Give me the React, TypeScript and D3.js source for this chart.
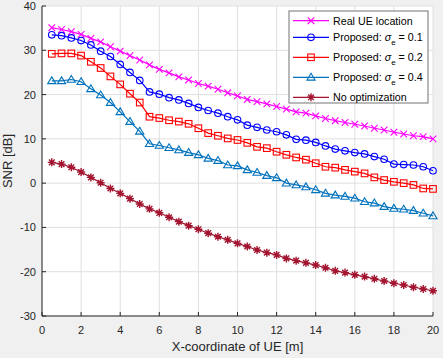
import * as d3 from 'd3';

const xValues = [
  0.5, 1, 1.5, 2, 2.5, 3, 3.5, 4, 4.5, 5, 5.5, 6, 6.5, 7, 7.5, 8, 8.5, 9, 9.5, 10,
  10.5, 11, 11.5, 12, 12.5, 13, 13.5, 14, 14.5, 15, 15.5, 16, 16.5, 17, 17.5, 18, 18.5, 19, 19.5, 20,
];

const realUE = [
  35.1, 34.7, 34.2, 33.6, 32.7, 31.9, 30.8, 29.8, 28.8, 27.8, 26.7, 25.7, 24.9,
  24.0, 23.3, 22.5, 21.9, 21.2, 20.4, 19.7, 18.9, 18.4, 17.9, 17.3, 16.7, 16.1, 15.8,
  15.2, 14.6, 14.1, 13.7, 13.3, 12.9, 12.4, 12.0, 11.5, 11.1, 10.7, 10.5, 10.0,
];
const sigma01 = [
  33.5, 33.3, 32.8, 32.2, 31.2, 29.8, 28.6, 26.8, 25.0, 23.2, 20.6, 20.1, 19.3,
  18.8, 18.0, 17.1, 16.4, 15.8, 15.0, 14.3, 13.1, 12.6, 12.0, 11.6, 10.9, 9.9, 9.7,
  9.2, 8.4, 7.7, 7.3, 6.9, 6.6, 6.0, 5.4, 4.3, 4.2, 4.1, 3.7, 2.8,
];
const sigma02 = [
  29.2, 29.3, 29.3, 28.8, 27.4, 26.0, 24.1, 22.3, 20.2, 18.2, 15.0, 14.7, 14.2,
  13.9, 13.4, 12.4, 11.3, 10.7, 10.1, 9.75, 9.1, 8.2, 7.9, 7.1, 6.4, 5.8, 5.3,
  4.5, 3.7, 3.5, 3.0, 2.6, 2.2, 1.3, 0.7, 0.3, 0.0, -0.4, -1.2, -1.3,
];
const sigma04 = [
  23.1, 23.1, 23.4, 22.9, 21.3, 19.9, 18.2, 16.1, 13.9, 11.7, 8.9, 8.5, 8.0,
  7.5, 6.9, 6.4, 5.6, 5.1, 4.1, 3.9, 3.0, 2.4, 1.7, 1.2, 0.0, -0.4, -0.85,
  -1.5, -2.3, -2.7, -3.0, -3.4, -4.2, -4.5, -5.3, -5.7, -5.9, -6.2, -6.8, -7.4,
];
const noOpt = [
  4.7, 4.3, 3.6, 2.5, 1.3, 0.1, -1.2, -2.3, -3.5, -4.7, -5.8, -6.7, -7.7,
  -8.7, -9.6, -10.4, -11.3, -12.1, -12.8, -13.6, -14.3, -15.1, -15.7, -16.2, -17.0, -17.5, -18.0,
  -18.5, -19.1, -19.8, -20.2, -20.7, -21.1, -21.6, -22.1, -22.6, -23.0, -23.5, -23.9, -24.3,
];

const xTicks = [0, 2, 4, 6, 8, 10, 12, 14, 16, 18, 20];
const yTicks = [-30, -20, -10, 0, 10, 20, 30, 40];

type Marker = 'x' | 'o' | 's' | '^' | '*';
const series: { name: string; sigma?: string; values: number[]; color: string; marker: Marker }[] = [
  { name: 'Real UE location', values: realUE, color: '#ff00ff', marker: 'x' },
  { name: 'Proposed: ', sigma: '0.1', values: sigma01, color: '#0000ff', marker: 'o' },
  { name: 'Proposed: ', sigma: '0.2', values: sigma02, color: '#ff0000', marker: 's' },
  { name: 'Proposed: ', sigma: '0.4', values: sigma04, color: '#0072bd', marker: '^' },
  { name: 'No optimization', values: noOpt, color: '#a2142f', marker: '*' },
];

const W = 443;
const H = 358;
const margin = { top: 6, right: 10, bottom: 42, left: 42 };
const font = 'Liberation Sans, Arial, Helvetica, sans-serif';

function MarkerShape({ type, x, y, color }: { type: Marker; x: number; y: number; color: string }) {
  const s = 3.3;
  const common = { stroke: color, strokeWidth: 1.1, fill: 'none' };
  if (type === 'o') return <circle cx={x} cy={y} r={3.3} {...common} />;
  if (type === 's') return <rect x={x - s} y={y - s} width={2 * s} height={2 * s} {...common} />;
  if (type === '^')
    return <path d={`M${x},${y - 4}L${x + 4.1},${y + 2.8}L${x - 4.1},${y + 2.8}Z`} {...common} />;
  if (type === 'x')
    return <path d={`M${x - s},${y - s}L${x + s},${y + s}M${x - s},${y + s}L${x + s},${y - s}`} {...common} />;
  const a = 4;
  const b = a * 0.707;
  return (
    <path
      d={`M${x - a},${y}L${x + a},${y}M${x},${y - a}L${x},${y + a}M${x - b},${y - b}L${x + b},${y + b}M${x - b},${y + b}L${x + b},${y - b}`}
      stroke={color}
      strokeWidth={1.4}
      fill="none"
    />
  );
}

export default function App() {
  const x = d3.scaleLinear().domain([0, 20]).range([margin.left, W - margin.right]);
  const y = d3.scaleLinear().domain([-30, 40]).range([H - margin.bottom, margin.top]);
  const line = d3
    .line<number>()
    .x((_, i) => x(xValues[i]))
    .y((d) => y(d));

  const [x0, x1] = x.range();
  const [y0, y1] = y.range();

  const legend = { x: 289, y: 11, w: 139, h: 92 };
  const rowY = [20.7, 37.3, 57.3, 77.3, 97.3];

  return (
    <svg
      width={W}
      height={H}
      style={{ position: 'absolute', left: 0, top: 0, background: '#f0f0f0' }}
      fontFamily={font}
    >
      <rect x={x0} y={y1} width={x1 - x0} height={y0 - y1} fill="#fff" />
      {/* grid */}
      {xTicks.map((t) => (
        <line key={'gx' + t} x1={x(t)} x2={x(t)} y1={y0} y2={y1} stroke="#e0e0e0" />
      ))}
      {yTicks.map((t) => (
        <line key={'gy' + t} x1={x0} x2={x1} y1={y(t)} y2={y(t)} stroke="#e0e0e0" />
      ))}
      {/* series */}
      {series.map((s) => (
        <g key={s.name + (s.sigma || '')}>
          <path d={line(s.values) || ''} fill="none" stroke={s.color} strokeWidth={1.2} />
          {s.values.map((v, i) => (
            <MarkerShape key={i} type={s.marker} x={x(xValues[i])} y={y(v)} color={s.color} />
          ))}
        </g>
      ))}
      {/* axes */}
      <line x1={x0} x2={x1} y1={y0} y2={y0} stroke="#262626" />
      <line x1={x0} x2={x0} y1={y0} y2={y1} stroke="#262626" />
      {xTicks.map((t) => (
        <g key={'tx' + t}>
          <line x1={x(t)} x2={x(t)} y1={y0} y2={y0 - 4} stroke="#262626" />
          <text x={x(t)} y={y0 + 18} textAnchor="middle" fontSize={11} fill="#262626">
            {t}
          </text>
        </g>
      ))}
      {yTicks.map((t) => (
        <g key={'ty' + t}>
          <line x1={x0} x2={x0 + 4} y1={y(t)} y2={y(t)} stroke="#262626" />
          <text x={x0 - 6} y={y(t) + 4} textAnchor="end" fontSize={11} fill="#262626">
            {t}
          </text>
        </g>
      ))}
      <text x={(x0 + x1) / 2} y={351} textAnchor="middle" fontSize={13} fill="#262626">
        X-coordinate of UE [m]
      </text>
      <text
        transform={`translate(12,${(y0 + y1) / 2}) rotate(-90)`}
        textAnchor="middle"
        fontSize={13}
        fill="#262626"
      >
        SNR [dB]
      </text>
      {/* legend */}
      <rect x={legend.x} y={legend.y} width={legend.w} height={legend.h} fill="#fff" stroke="#8a8a8a" strokeWidth={1.2} />
      {series.map((s, i) => (
        <g key={'lg' + i}>
          <line x1={293} x2={329} y1={rowY[i]} y2={rowY[i]} stroke={s.color} strokeWidth={1.2} />
          <MarkerShape type={s.marker} x={311} y={rowY[i]} color={s.color} />
          <text x={333} y={rowY[i] + 3.8} fontSize={10.7} fill="#000">
            {s.name}
            {s.sigma && (
              <>
                <tspan fontStyle="italic">σ</tspan>
                <tspan fontSize={8} dy={3.5}>e</tspan>
                <tspan dy={-3.5}>{' = ' + s.sigma}</tspan>
              </>
            )}
          </text>
        </g>
      ))}
    </svg>
  );
}
